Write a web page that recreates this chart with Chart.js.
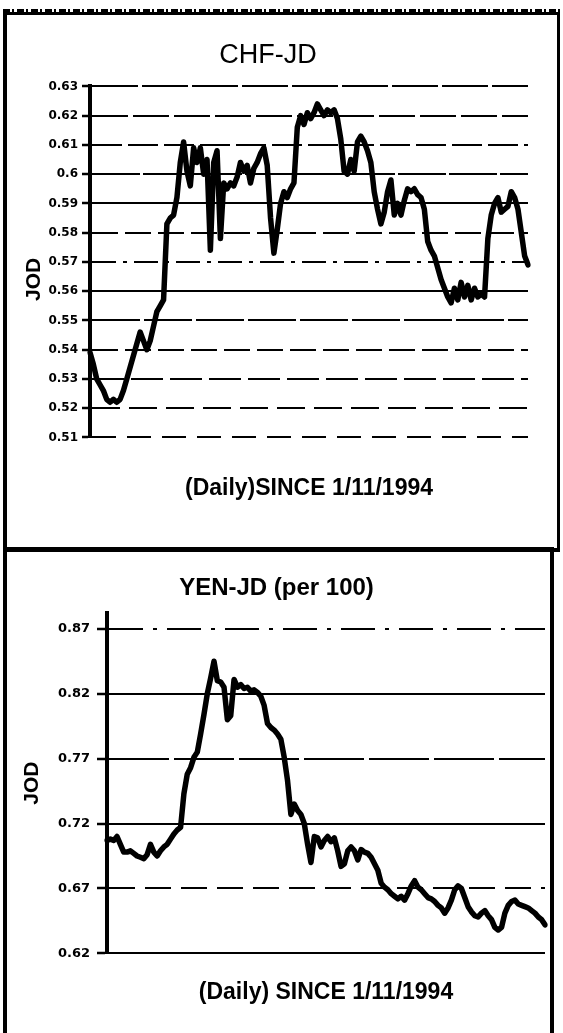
<!DOCTYPE html>
<html>
<head>
<meta charset="utf-8">
<script src="https://cdn.jsdelivr.net/npm/chart.js@4.4.1/dist/chart.umd.min.js"></script>
<style>
  body { margin: 0; background: #fff; width: 563px; height: 1033px; overflow: hidden; position: relative; }
  .box { position: absolute; box-sizing: border-box; border: 4px solid #000; }
  .strip { position: absolute; left: 3px; top: 9px; width: 557px; height: 4px;
    background: repeating-linear-gradient(90deg, #000 0 7px, transparent 7px 9px, #000 9px 11px, transparent 11px 14px); }
  canvas { position: absolute; }
</style>
</head>
<body>
<div class="strip"></div>
<div class="box" style="left:3px; top:12px; width:557px; height:540px; border-top-width:3px; border-right-width:3px;"></div>
<div class="box" style="left:3px; top:547px; width:551px; height:520px;"></div>
<canvas id="chf" width="547" height="527" style="left:8px; top:16px;"></canvas>
<canvas id="yen" width="543" height="481" style="left:8px; top:552px;"></canvas>
<script>
// CHF-JD, daily since 1/11/1994
const chfValues = [
  0.539, 0.535, 0.530, 0.528, 0.526, 0.523, 0.522, 0.523, 0.522, 0.523,
  0.526, 0.530, 0.534, 0.538, 0.542, 0.546, 0.543, 0.540, 0.543, 0.548,
  0.553, 0.555, 0.557, 0.583, 0.585, 0.586, 0.592, 0.604, 0.611, 0.601,
  0.596, 0.609, 0.604, 0.609, 0.600, 0.605, 0.574, 0.604, 0.608, 0.578,
  0.597, 0.595, 0.597, 0.596, 0.599, 0.604, 0.601, 0.603, 0.597, 0.602,
  0.604, 0.607, 0.609, 0.603, 0.585, 0.573, 0.581, 0.590, 0.594, 0.592,
  0.595, 0.597, 0.616, 0.620, 0.617, 0.621, 0.619, 0.621, 0.624, 0.622,
  0.620, 0.622, 0.621, 0.622, 0.619, 0.612, 0.601, 0.600, 0.605, 0.601,
  0.611, 0.613, 0.611, 0.608, 0.604, 0.594, 0.588, 0.583, 0.587, 0.594,
  0.598, 0.586, 0.590, 0.586, 0.591, 0.595, 0.594, 0.595, 0.593, 0.592,
  0.588, 0.577, 0.574, 0.572, 0.568, 0.564, 0.561, 0.558, 0.556, 0.561,
  0.557, 0.563, 0.558, 0.562, 0.557, 0.561, 0.558, 0.559, 0.558, 0.578,
  0.586, 0.590, 0.592, 0.587, 0.588, 0.589, 0.594, 0.592, 0.588, 0.580,
  0.572, 0.569
];

// YEN-JD (per 100), daily since 1/11/1994
const yenValues = [
  0.707, 0.708, 0.707, 0.710, 0.704, 0.698, 0.698, 0.699, 0.697, 0.695,
  0.694, 0.693, 0.696, 0.704, 0.698, 0.695, 0.699, 0.702, 0.704, 0.708,
  0.712, 0.715, 0.717, 0.743, 0.758, 0.763, 0.771, 0.775, 0.789, 0.804,
  0.820, 0.832, 0.845, 0.830, 0.829, 0.825, 0.800, 0.803, 0.831, 0.825,
  0.827, 0.824, 0.825, 0.822, 0.823, 0.821, 0.818, 0.811, 0.797, 0.794,
  0.792, 0.789, 0.785, 0.771, 0.753, 0.727, 0.735, 0.730, 0.727, 0.720,
  0.704, 0.690, 0.710, 0.709, 0.702, 0.707, 0.710, 0.706, 0.709, 0.699,
  0.687, 0.689, 0.699, 0.702, 0.699, 0.692, 0.700, 0.698, 0.697, 0.694,
  0.689, 0.684, 0.674, 0.671, 0.669, 0.666, 0.664, 0.662, 0.664, 0.661,
  0.666, 0.672, 0.676, 0.671, 0.669, 0.666, 0.663, 0.662, 0.660, 0.657,
  0.655, 0.651, 0.655, 0.661, 0.669, 0.672, 0.670, 0.663, 0.656, 0.652,
  0.649, 0.648, 0.651, 0.653, 0.649, 0.646, 0.640, 0.638, 0.640, 0.651,
  0.657, 0.660, 0.661, 0.658, 0.657, 0.656, 0.655, 0.653, 0.651, 0.648,
  0.646, 0.642
];

// y-axis tick labels
const chfTickValues = [0.51, 0.52, 0.53, 0.54, 0.55, 0.56, 0.57, 0.58, 0.59, 0.6, 0.61, 0.62, 0.63];
const yenTickValues = [0.62, 0.67, 0.72, 0.77, 0.82, 0.87];

// how each gridline looks in the scan (keyed by value * 100)
const chfDash = {
  63: [46, 4], 62: [36, 5], 61: [30, 6], 60: [48, 3], 59: [], 58: [26, 7],
  57: [24, 7, 4, 7], 56: [], 55: [48, 4], 54: [26, 7], 53: [32, 7], 52: [28, 9], 51: [24, 11],
};
const yenDash = { 87: [34, 10, 4, 10], 82: [], 77: [60, 5], 72: [], 67: [26, 10], 62: [] };

const sans = "'Liberation Sans', Arial, sans-serif";

function dashFor(map) {
  return (ctx) => {
    if (!ctx.tick) return [];
    return map[Math.round(ctx.tick.value * 100)] || [];
  };
}

function makeChart(id, values, tickValues, dashMap, o) {
  return new Chart(document.getElementById(id), {
    type: 'line',
    data: {
      labels: values.map((v, i) => i + 1),
      datasets: [{
        data: values,
        borderColor: '#000',
        borderWidth: 5.5,
        pointRadius: 0,
        tension: 0,
        borderJoinStyle: 'round',
        borderCapStyle: 'round',
      }],
    },
    options: {
      responsive: false,
      animation: false,
      events: [],
      layout: { padding: { left: 0, right: o.right, top: 0, bottom: 0 } },
      plugins: {
        legend: { display: false },
        tooltip: { enabled: false },
        title: {
          display: true,
          text: o.title,
          color: '#000',
          font: { family: sans, size: o.titleSize, weight: o.titleWeight },
          padding: o.titlePad,
        },
      },
      scales: {
        x: {
          offset: false,
          grid: { display: false, drawTicks: false },
          border: { display: false },
          ticks: { display: false },
          title: {
            display: true,
            text: o.xTitle,
            color: '#000',
            font: { family: sans, size: 23, weight: 'bold' },
            padding: o.xPad,
          },
        },
        y: {
          min: tickValues[0],
          max: o.yMax,
          afterFit(scale) { scale.width = o.yWidth; },
          afterBuildTicks(scale) { scale.ticks = tickValues.map((v) => ({ value: v })); },
          grid: {
            color: '#000',
            lineWidth: 2,
            tickColor: '#000',
            tickWidth: 2.5,
            tickLength: o.tickLength,
          },
          border: { display: true, color: '#000', width: 4, dash: dashFor(dashMap) },
          ticks: {
            color: '#000',
            padding: o.tickPad,
            font: { family: "'DejaVu Sans', sans-serif", size: o.tickSize, weight: 'bold' },
            callback: (v) => String(+v.toFixed(2)),
          },
          title: {
            display: true,
            text: o.jodText,
            color: '#000',
            font: { family: sans, size: 21, weight: 'bold' },
            padding: { top: o.jodPad, bottom: 0 },
          },
        },
      },
    },
  });
}

makeChart('chf', chfValues, chfTickValues, chfDash, {
  title: 'CHF-JD',
  titleSize: 27,
  titleWeight: 'normal',
  titlePad: { top: 23, bottom: 15 },
  xTitle: '(Daily)SINCE 1/11/1994',
  xPad: { top: 37, bottom: 41 },
  right: 27,
  yMax: chfTickValues[chfTickValues.length - 1],
  yWidth: 82,
  tickLength: 8,
  tickPad: 4,
  tickSize: 12,
  jodText: 'JOD      ',
  jodPad: 14,
});

makeChart('yen', yenValues, yenTickValues, yenDash, {
  title: 'YEN-JD (per 100)',
  titleSize: 24,
  titleWeight: 'bold',
  titlePad: { top: 22, bottom: 10 },
  xTitle: '(Daily) SINCE 1/11/1994',
  xPad: { top: 25, bottom: 27 },
  right: 6,
  yMax: yenTickValues[yenTickValues.length - 1] + 0.0123,
  yWidth: 99,
  tickLength: 10,
  tickPad: 7,
  tickSize: 13,
  jodText: 'JOD',
  jodPad: 12,
});
</script>
</body>
</html>
